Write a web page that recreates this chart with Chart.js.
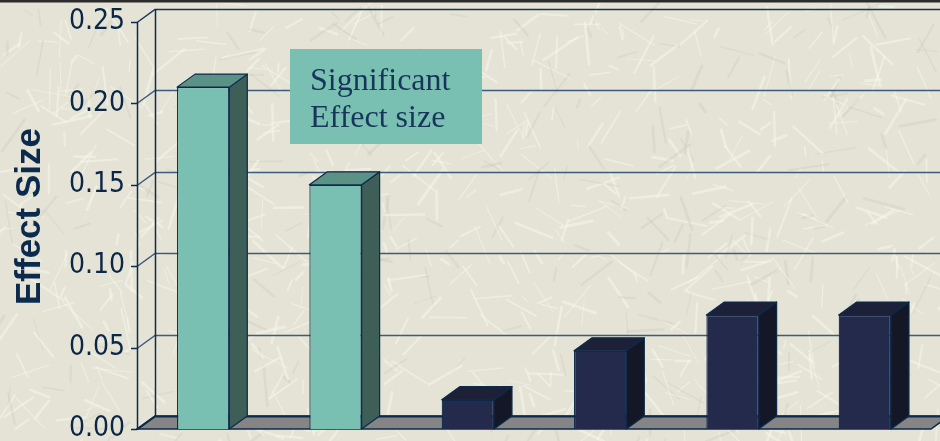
<!DOCTYPE html>
<html>
<head>
<meta charset="utf-8">
<script src="https://cdn.jsdelivr.net/npm/chart.js@4.4.0/dist/chart.umd.min.js"></script>
<style>
  html, body { margin: 0; padding: 0; background: #e4e3d5; overflow: hidden; }
  #wrap { width: 940px; height: 441px; }
</style>
</head>
<body>
<div id="wrap"><canvas id="effectChart" width="940" height="441"></canvas></div>
<script>
/* data */
const categories = ['1', '2', '3', '4', '5', '6'];
const effectSizes = [0.21, 0.15, 0.018, 0.048, 0.07, 0.07];
const significant = [true, true, false, false, false, false];
const yTicks = [0, 0.05, 0.10, 0.15, 0.20, 0.25];
const yTitle = 'Effect Size';
const noteLines = ['Significant', 'Effect size'];

/* colours */
const navy = '#0c2a4c';
const sigColors = { front: '#7ac0b2', side: '#3e5f57', top: '#5b9286' };
const otherColors = { front: '#232a4b', side: '#141826', top: '#1d2138' };
const depth = { dx: 18, dy: 13 };

/* background texture, seeded so it is the same every time */
let seed = 12345;
function nextRand() {
  seed = (seed * 16807) % 2147483647;
  return seed / 2147483647;
}

const backdrop = {
  id: 'backdrop',
  beforeDraw(chart) {
    const ctx = chart.ctx;
    const w = chart.width, h = chart.height;
    ctx.save();
    ctx.fillStyle = '#e4e3d5';
    ctx.fillRect(0, 0, w, h);
    seed = 12345;
    ctx.lineCap = 'round';
    for (let i = 0; i < 900; i++) {
      const x = nextRand() * w, y = nextRand() * h;
      const len = 8 + nextRand() * 34;
      const ang = nextRand() * Math.PI;
      ctx.strokeStyle = nextRand() < 0.75 ? 'rgba(248,248,238,0.5)' : 'rgba(200,199,186,0.3)';
      ctx.lineWidth = 1 + nextRand() * 2;
      ctx.beginPath();
      ctx.moveTo(x, y);
      ctx.lineTo(x + Math.cos(ang) * len, y + Math.sin(ang) * len);
      ctx.stroke();
    }
    ctx.fillStyle = '#2b2b2b';
    ctx.fillRect(0, 0, w, 2.5);

    // axis title, rotated
    const a = chart.chartArea;
    ctx.translate(30, (a.top + a.bottom) / 2 - 9);
    ctx.rotate(-Math.PI / 2);
    ctx.fillStyle = '#0b2a4d';
    ctx.font = 'bold 35px "Liberation Sans", Arial, sans-serif';
    ctx.textAlign = 'center';
    ctx.textBaseline = 'middle';
    ctx.fillText(yTitle, 0, 0);
    ctx.restore();
  }
};

/* back wall, floor and grid lines */
const wall = {
  id: 'wall',
  beforeDatasetsDraw(chart) {
    const { ctx, chartArea: a, scales: { y } } = chart;
    const { dx, dy } = depth;
    const y0 = y.getPixelForValue(0);
    const yTop = y.getPixelForValue(yTicks[yTicks.length - 1]);
    ctx.save();

    // floor
    ctx.beginPath();
    ctx.moveTo(a.left, y0);
    ctx.lineTo(a.right, y0);
    ctx.lineTo(a.right + dx, y0 - dy);
    ctx.lineTo(a.left + dx, y0 - dy);
    ctx.closePath();
    ctx.fillStyle = '#858585';
    ctx.fill();
    ctx.strokeStyle = navy;
    ctx.lineWidth = 1.5;
    ctx.stroke();

    // grid lines with the left wall diagonals
    yTicks.forEach(v => {
      const py = Math.round(y.getPixelForValue(v)) + 0.5;
      ctx.strokeStyle = v === 0 ? navy : (v === yTicks[yTicks.length - 1] ? '#163657' : '#3d5b7a');
      ctx.lineWidth = v === 0 ? 2 : 1.5;
      ctx.beginPath();
      ctx.moveTo(a.left, py);
      ctx.lineTo(a.left + dx, py - dy);
      ctx.lineTo(chart.width, py - dy);
      ctx.stroke();
      // tick mark
      ctx.strokeStyle = navy;
      ctx.lineWidth = 1.5;
      ctx.beginPath();
      ctx.moveTo(a.left - 6, py);
      ctx.lineTo(a.left, py);
      ctx.stroke();
    });

    // back wall left edge and front axis
    ctx.strokeStyle = navy;
    ctx.lineWidth = 1.5;
    ctx.beginPath();
    ctx.moveTo(a.left + dx + 0.5, yTop - dy);
    ctx.lineTo(a.left + dx + 0.5, y0 - dy);
    ctx.moveTo(a.left + 0.5, yTop);
    ctx.lineTo(a.left + 0.5, y0);
    ctx.stroke();
    ctx.restore();
  }
};

/* side and top faces of the bars */
const bars3d = {
  id: 'bars3d',
  afterDatasetsDraw(chart) {
    const ctx = chart.ctx;
    const { dx, dy } = depth;
    const meta = chart.getDatasetMeta(0);
    ctx.save();
    ctx.strokeStyle = navy;
    ctx.lineWidth = 1.2;
    ctx.lineJoin = 'round';
    meta.data.forEach((bar, i) => {
      const c = significant[i] ? sigColors : otherColors;
      const l = bar.x - bar.width / 2, r = bar.x + bar.width / 2;
      const t = bar.y, b = bar.base;
      ctx.beginPath();
      ctx.moveTo(r, t);
      ctx.lineTo(r + dx, t - dy);
      ctx.lineTo(r + dx, b - dy);
      ctx.lineTo(r, b);
      ctx.closePath();
      ctx.fillStyle = c.side;
      ctx.fill();
      ctx.stroke();
      ctx.beginPath();
      ctx.moveTo(l, t);
      ctx.lineTo(l + dx, t - dy);
      ctx.lineTo(r + dx, t - dy);
      ctx.lineTo(r, t);
      ctx.closePath();
      ctx.fillStyle = c.top;
      ctx.fill();
      ctx.stroke();
    });
    ctx.restore();
  }
};

/* the "Significant Effect size" note */
const note = {
  id: 'note',
  afterDraw(chart) {
    const ctx = chart.ctx;
    ctx.save();
    ctx.fillStyle = sigColors.front;
    ctx.fillRect(290, 49, 192, 95);
    ctx.fillStyle = '#17355a';
    ctx.font = '32px "Liberation Serif", "Times New Roman", serif';
    ctx.textBaseline = 'alphabetic';
    noteLines.forEach((line, i) => ctx.fillText(line, 310, 90 + i * 37));
    ctx.restore();
  }
};

const config = {
  type: 'bar',
  data: {
    labels: categories,
    datasets: [{
      label: 'Effect Size',
      data: effectSizes,
      backgroundColor: significant.map(s => s ? sigColors.front : otherColors.front),
      borderColor: navy,
      borderWidth: 1.2,
      barPercentage: 0.395,
      categoryPercentage: 1
    }]
  },
  options: {
    responsive: false,
    animation: false,
    layout: { padding: { top: 22, bottom: 12, left: 0, right: 9 } },
    plugins: {
      legend: { display: false },
      tooltip: { enabled: false }
    },
    scales: {
      x: { display: false },
      y: {
        min: 0,
        max: 0.25,
        afterBuildTicks: s => { s.ticks = yTicks.map(v => ({ value: v })); },
        afterFit: s => {
          s.width = 137;
          s.paddingTop = 0;
          s.paddingBottom = 0;
        },
        grid: { display: false, drawTicks: false },
        border: { display: false },
        ticks: {
          padding: 12,
          color: '#0b2647',
          font: { family: '"DejaVu Sans Condensed", "DejaVu Sans", sans-serif', size: 28 },
          callback: v => Number(v).toFixed(2)
        }
      }
    }
  },
  plugins: [backdrop, wall, bars3d, note]
};

var myChart = new Chart(
  document.getElementById('effectChart'),
  config
);
</script>
</body>
</html>
